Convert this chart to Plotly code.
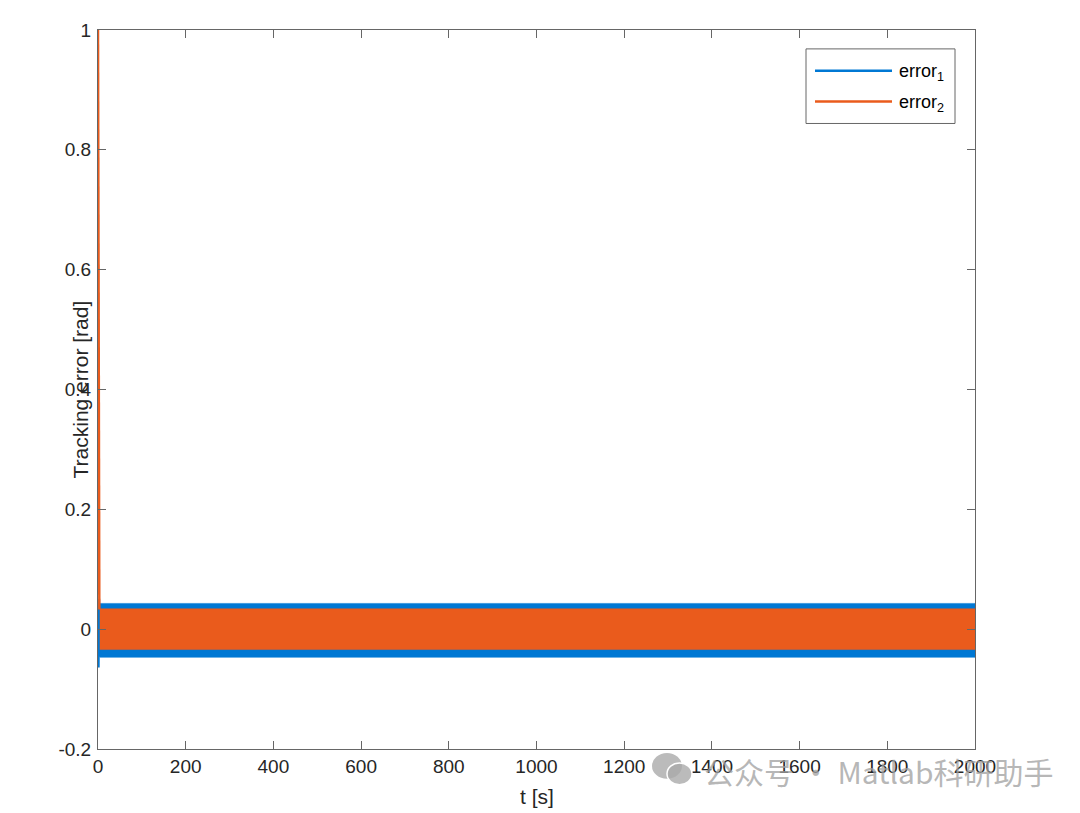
import plotly.graph_objects as go

# ---- data ----
x_ticks = [0, 200, 400, 600, 800, 1000, 1200, 1400, 1600, 1800, 2000]
x_tick_labels = ["0", "200", "400", "600", "800", "1000", "1200", "1400", "1600", "1800", "2000"]
y_ticks = [-0.2, 0, 0.2, 0.4, 0.6, 0.8, 1.0]
y_tick_labels = ["-0.2", "0", "0.2", "0.4", "0.6", "0.8", "1"]

# initial transient (t in s)
t1_start = [0.0, 1.0, 2.0, 3.0, 4.0]
e1_start = [0.0, -0.064, 0.05, -0.046, 0.042]
t2_start = [0.0, 1.0, 2.0, 3.0]
e2_start = [1.0, 0.55, 0.05, 0.033]

# steady-state oscillation envelope (dense oscillation renders as a solid band)
t_band = [4.0, 2000.0]
e1_upper = [0.043, 0.043]
e1_lower = [-0.047, -0.047]
e2_upper = [0.034, 0.034]
e2_lower = [-0.034, -0.034]

names = ["error<sub>1</sub>", "error<sub>2</sub>"]
BLUE = "#0078D4"
ORANGE = "#EA5B1C"

fig = go.Figure()

def band(t, up, lo, color):
    xs = list(t) + list(t[::-1])
    ys = list(up) + list(lo[::-1])
    return go.Scatter(x=xs, y=ys, mode="lines", fill="toself", fillcolor=color,
                      line=dict(color=color, width=0.5), showlegend=False, hoverinfo="skip")

fig.add_trace(band(t_band, e1_upper, e1_lower, BLUE))
fig.add_trace(go.Scatter(x=t1_start, y=e1_start, mode="lines", line=dict(color=BLUE, width=2.5),
                         showlegend=False, name="error1"))
fig.add_trace(band(t_band, e2_upper, e2_lower, ORANGE))
fig.add_trace(go.Scatter(x=t2_start, y=e2_start, mode="lines", line=dict(color=ORANGE, width=2.5),
                         showlegend=False, name="error2"))

AX = "#666666"
TXT = "#262626"
FONT = "Liberation Sans, Arial, sans-serif"

# page has an 8px body margin -> figure is 1072x805 drawn at (8,8)
OFF = 8
L, T, PW, PH = 98 - OFF, 26 - OFF, 877, 723
W, H = 1080 - OFF, 813 - OFF

fig.update_layout(
    width=W, height=H,
    margin=dict(l=L, r=W - L - PW, t=T, b=H - T - PH),
    paper_bgcolor="white", plot_bgcolor="white",
    font=dict(family=FONT, size=19, color=TXT),
    showlegend=False,
)
fig.update_xaxes(range=[0, 2000], tickvals=x_ticks, ticktext=x_tick_labels,
                 ticks="inside", ticklen=8, tickcolor=AX, tickwidth=1,
                 showline=True, linecolor=AX, linewidth=1, mirror="allticks",
                 showgrid=False, zeroline=False, tickfont=dict(size=19, color=TXT))
fig.update_yaxes(range=[-0.2, 1.0], tickvals=y_ticks, ticktext=y_tick_labels,
                 ticks="inside", ticklen=8, tickcolor=AX, tickwidth=1,
                 showline=True, linecolor=AX, linewidth=1, mirror="allticks",
                 showgrid=False, zeroline=False, tickfont=dict(size=19, color=TXT),
                 ticklabelstandoff=2)

# pixel (in 1080x813 screen coords) -> paper coords
def px_x(px):
    return (px - 98) / float(PW)
def px_y(py):
    return (749 - py) / float(PH)

# axis titles
fig.add_annotation(text="t [s]", xref="paper", yref="paper", x=0.5, y=px_y(797),
                   xanchor="center", yanchor="middle", showarrow=False,
                   font=dict(size=21, color=TXT, family=FONT))
fig.add_annotation(text="Tracking error [rad]", xref="paper", yref="paper",
                   x=px_x(80), y=0.5, xanchor="center", yanchor="middle", textangle=-90,
                   showarrow=False, font=dict(size=21, color=TXT, family=FONT))

# legend box (MATLAB style)
fig.add_shape(type="rect", xref="paper", yref="paper",
              x0=px_x(806), x1=px_x(955), y0=px_y(120), y1=px_y(45),
              line=dict(color=AX, width=1), fillcolor="white", layer="above")
for i, (nm, col) in enumerate(zip(names, [BLUE, ORANGE])):
    yy = 67 + i * 31
    fig.add_shape(type="line", xref="paper", yref="paper",
                  x0=px_x(815), x1=px_x(892), y0=px_y(yy), y1=px_y(yy),
                  line=dict(color=col, width=2.5), layer="above")
    fig.add_annotation(text=nm, xref="paper", yref="paper", x=px_x(897), y=px_y(yy + 2),
                       xanchor="left", yanchor="middle", showarrow=False,
                       font=dict(size=18, color="#000000", family=FONT))

# watermark
fig.add_shape(type="circle", xref="paper", yref="paper",
              x0=px_x(652), x1=px_x(682), y0=px_y(779), y1=px_y(753),
              line=dict(width=0), fillcolor="rgba(170,170,170,0.8)", layer="above")
fig.add_shape(type="circle", xref="paper", yref="paper",
              x0=px_x(667), x1=px_x(692), y0=px_y(785), y1=px_y(763),
              line=dict(color="white", width=1.5), fillcolor="rgba(170,170,170,0.8)", layer="above")
fig.add_annotation(text="公众号 · Matlab科研助手", xref="paper", yref="paper",
                   x=px_x(702), y=px_y(771), xanchor="left", yanchor="middle", showarrow=False,
                   font=dict(size=30, color="rgba(160,160,160,0.75)",
                             family="Noto Sans CJK SC, sans-serif"))

fig.write_html("out.html")
